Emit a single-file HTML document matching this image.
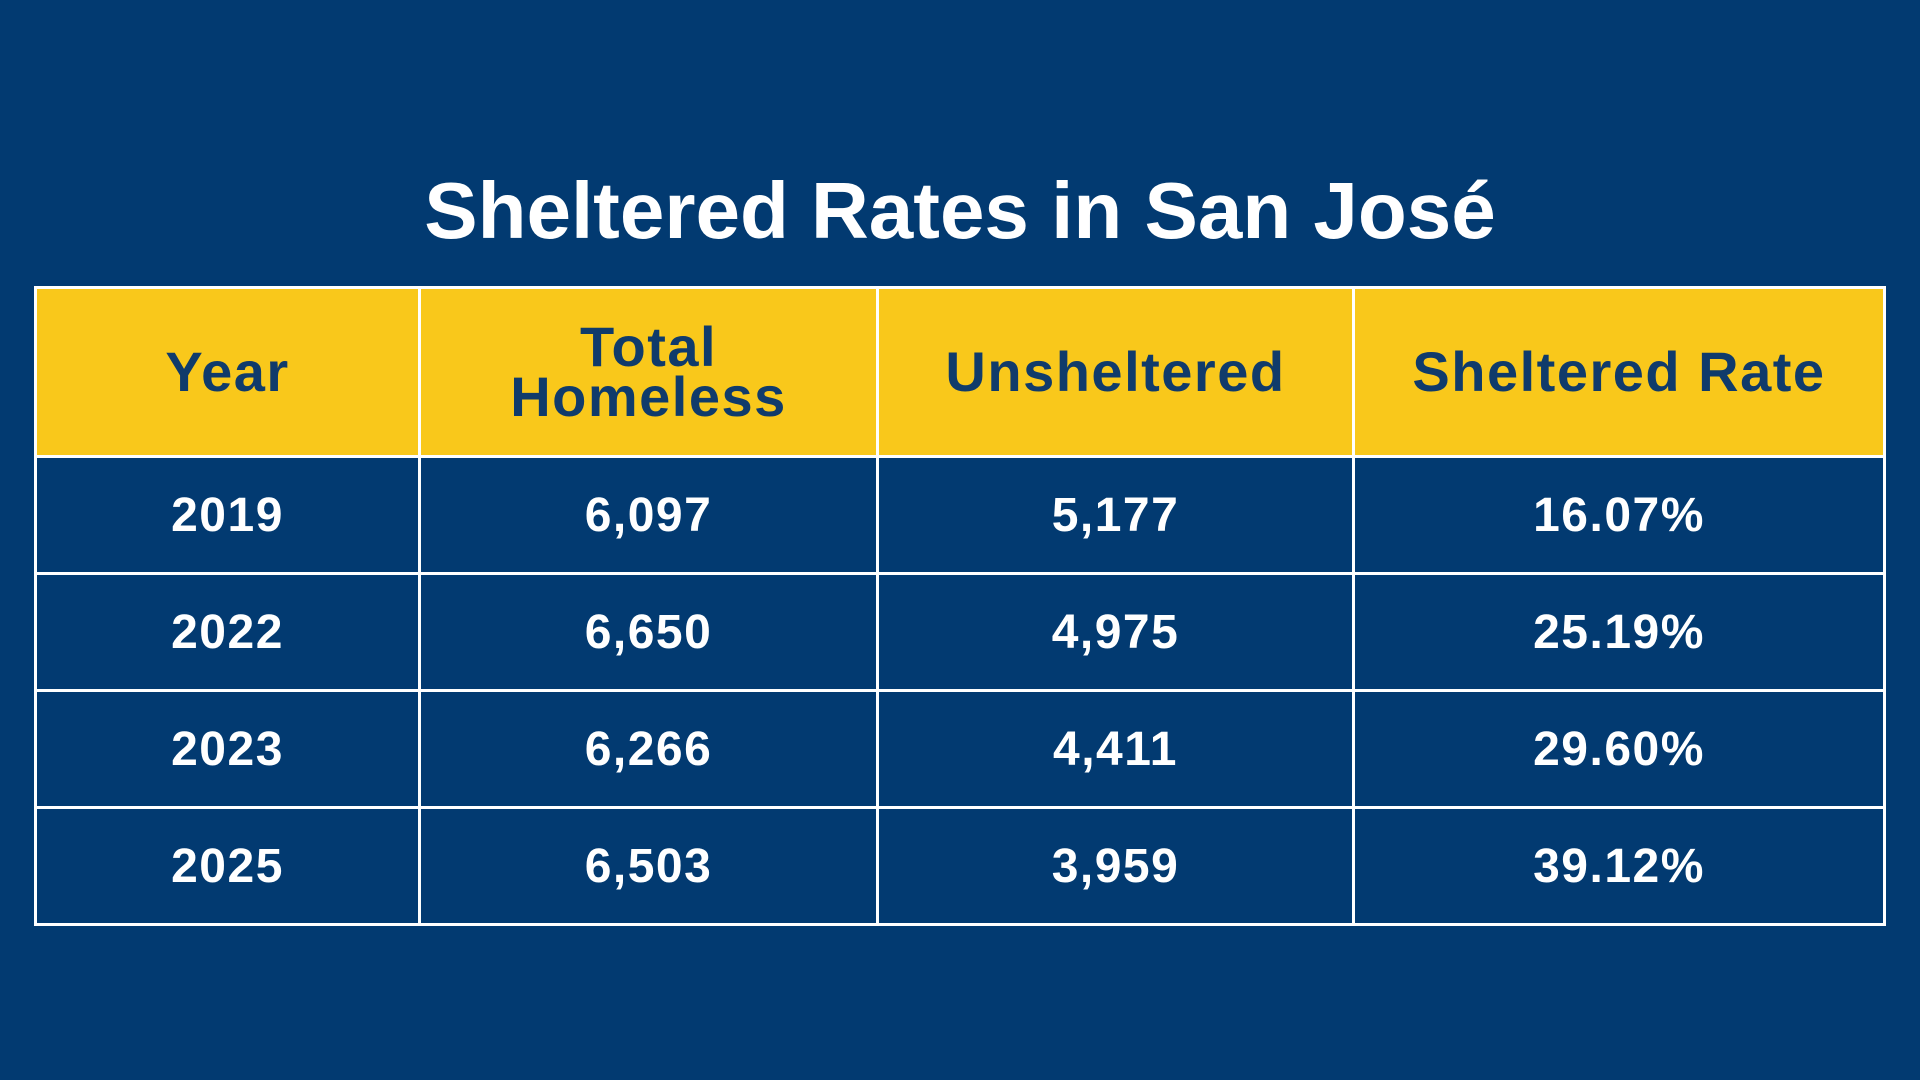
<!DOCTYPE html>
<html>
<head>
<meta charset="utf-8">
<style>
  html,body{margin:0;padding:0;}
  body{width:1920px;height:1080px;background:#023a71;overflow:hidden;position:relative;font-family:"Liberation Sans",sans-serif;}
  #title{position:absolute;left:0;width:1920px;top:171px;text-align:center;color:#fff;font-weight:bold;font-size:80px;letter-spacing:0px;line-height:80px;}
  table{position:absolute;left:34px;top:286px;width:1849px;border-collapse:collapse;table-layout:fixed;}
  td,th{border:3.5px solid #fff;text-align:center;padding:0;}
  th{background:#f9c81b;color:#103b6b;font-size:56px;letter-spacing:1.5px;line-height:50px;height:166px;font-weight:bold;}
  td{color:#fff;font-size:48px;letter-spacing:1.5px;font-weight:bold;height:114px;}
</style>
</head>
<body>
<div id="title">Sheltered Rates in San José</div>
<table>
  <colgroup><col style="width:384px"><col style="width:458px"><col style="width:476px"><col style="width:531px"></colgroup>
  <tr>
    <th>Year</th>
    <th>Total<br>Homeless</th>
    <th>Unsheltered</th>
    <th>Sheltered Rate</th>
  </tr>
  <tr><td>2019</td><td>6,097</td><td>5,177</td><td>16.07%</td></tr>
  <tr><td>2022</td><td>6,650</td><td>4,975</td><td>25.19%</td></tr>
  <tr><td>2023</td><td>6,266</td><td>4,411</td><td>29.60%</td></tr>
  <tr><td>2025</td><td>6,503</td><td>3,959</td><td>39.12%</td></tr>
</table>
</body>
</html>
